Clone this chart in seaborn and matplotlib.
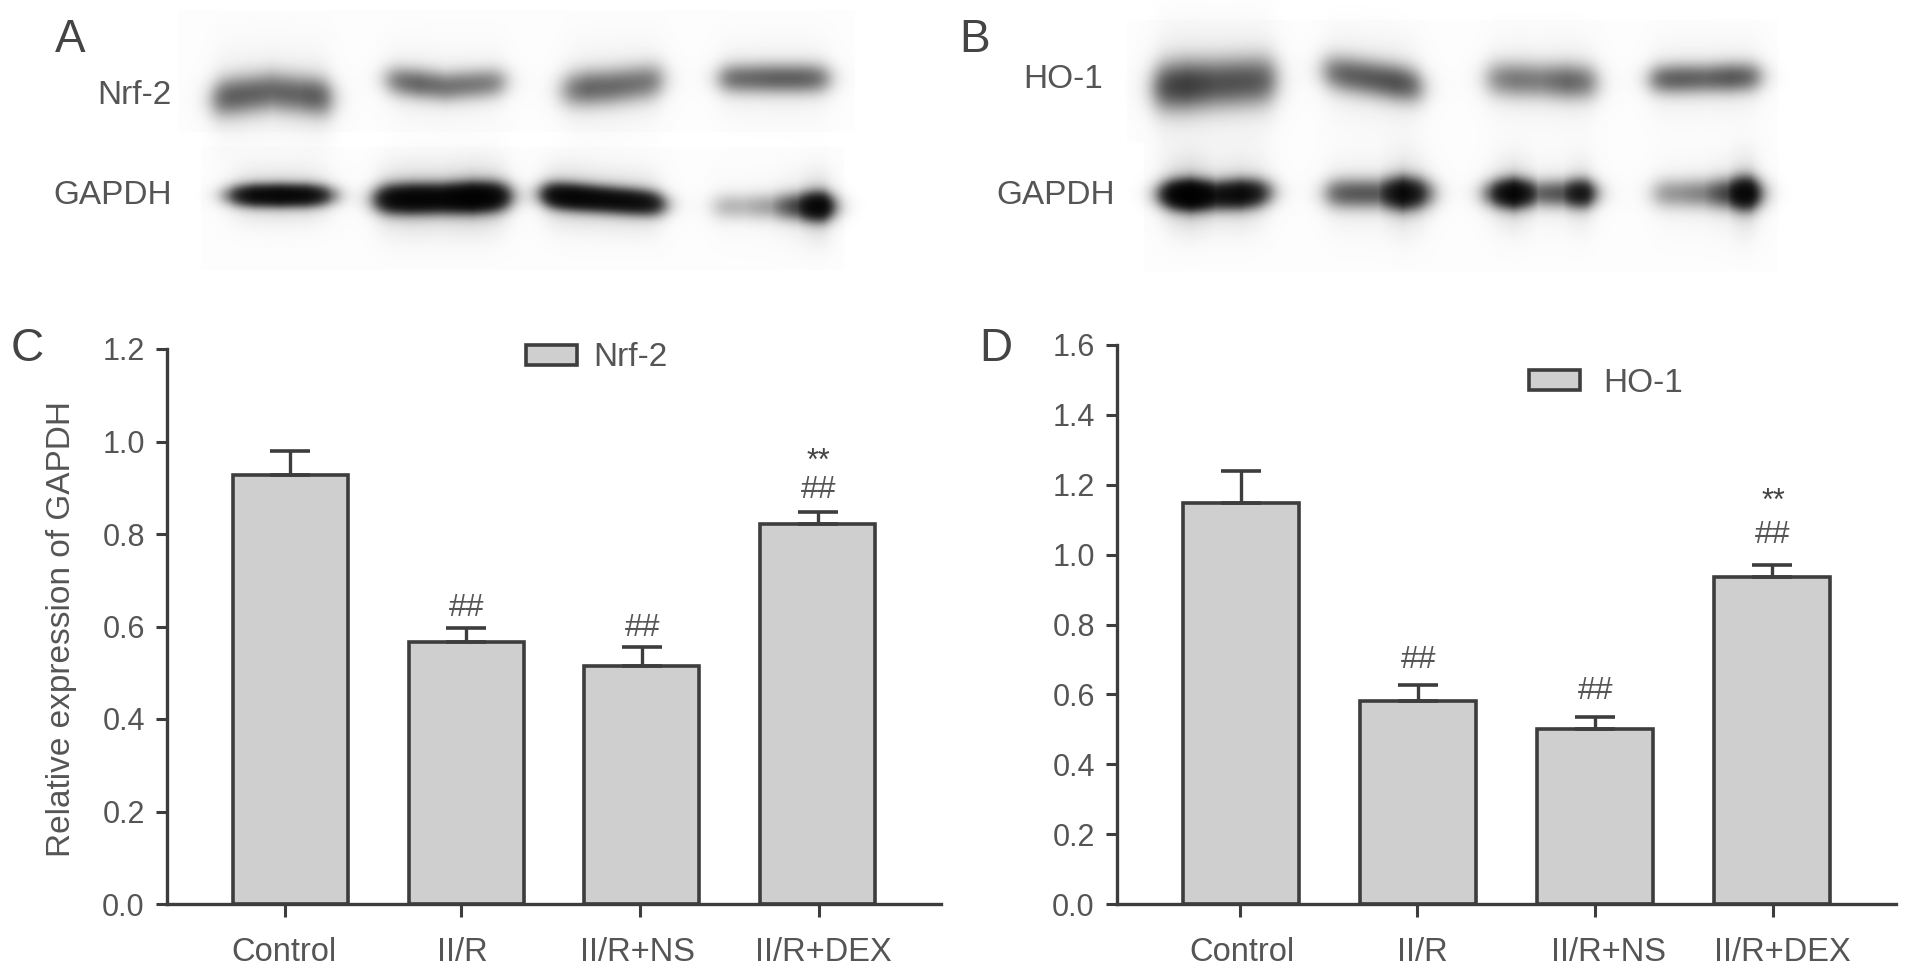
import numpy as np
import pandas as pd
import matplotlib
matplotlib.use("Agg")
import matplotlib.pyplot as plt
from matplotlib.patches import Patch
from matplotlib.transforms import ScaledTranslation
import seaborn as sns

W, H = 1913, 974

groups = ["Control", "II/R", "II/R+NS", "II/R+DEX"]

nrf2_vals = [0.928, 0.566, 0.515, 0.821]
nrf2_err = [0.052, 0.030, 0.041, 0.027]
nrf2_hash_y = [None, 0.640, 0.597, 0.895]
nrf2_star_y = [None, None, None, 0.955]

ho1_vals = [1.148, 0.581, 0.502, 0.936]
ho1_err = [0.090, 0.046, 0.033, 0.035]
ho1_hash_y = [None, 0.698, 0.609, 1.057]
ho1_star_y = [None, None, None, 1.150]

# tick marks are not quite under the bars in the original
nrf2_tick_shift = [-0.028, -0.028, -0.012, 0.007]
ho1_tick_shift = [-0.006, -0.006, 0.0, 0.006]
# label shift from the tick, pixels
nrf2_label_dx = [-1, 1, -2, 4]
ho1_label_dx = [2, 5, 13, 9]

# blot panels: x0, x1, y0, y1 (pixels)
blot_panels = [
    (178, 855, 10, 132),
    (201, 844, 147, 270),
    (1127, 1778, 20, 143),
    (1144, 1778, 143, 272),
]

# blot bands: x0, x1, y left/mid/right, thickness, darkness along the lane
blot_bands = [
    # Nrf-2
    (207, 336, [99, 91, 98], 13, [0.72, 0.66, 0.62, 0.64, 0.78]),
    (380, 511, [79, 86, 81], 10, [0.55, 0.62, 0.55, 0.52, 0.50]),
    (555, 668, [90, 86, 79], 12, [0.50, 0.62, 0.60, 0.56, 0.56]),
    (713, 835, [78, 78, 78], 10, [0.60, 0.60, 0.65, 0.65, 0.60]),
    # GAPDH A
    (219, 341, [195, 195, 195], 7, [0.9, 1.7, 1.9, 1.7, 0.9]),
    (371, 513, [199, 198, 196], 9, [1.8, 2.1, 2.0, 2.5, 2.0]),
    (538, 668, [194, 199, 204], 8, [2.0, 2.0, 1.8, 1.7, 1.5]),
    (707, 834, [206, 206, 206], 9, [0.28, 0.25, 0.35, 0.9, 2.8]),
    # HO-1
    (1148, 1281, [87, 83, 79], 16, [0.85, 0.90, 0.76, 0.74, 0.72]),
    (1317, 1427, [70, 78, 87], 12, [0.58, 0.66, 0.70, 0.76, 0.70]),
    (1480, 1602, [78, 80, 82], 12, [0.46, 0.52, 0.50, 0.62, 0.58]),
    (1644, 1766, [79, 78, 76], 10, [0.66, 0.66, 0.62, 0.70, 0.66]),
    # GAPDH B
    (1156, 1275, [194, 195, 192], 9, [2.0, 2.8, 1.5, 1.8, 1.2]),
    (1320, 1436, [193, 193, 193], 10, [0.7, 0.7, 0.7, 1.9, 1.1]),
    (1480, 1596, [193, 193, 193], 9, [1.1, 2.1, 0.62, 0.75, 2.1]),
    (1647, 1760, [193, 193, 193], 10, [0.40, 0.40, 0.48, 0.9, 3.0]),
]


def make_blots():
    img = np.ones((H, W))
    for x0, x1, y0, y1 in blot_panels:
        img[y0:y1, x0:x1] = 0.99
    yy, xx = np.mgrid[0:H, 0:W]
    dark = np.zeros((H, W))
    for x0, x1, ys, s, dk in blot_bands:
        t = (xx - x0) / (x1 - x0)
        yc = np.interp(t, [0, 0.5, 1], ys)
        d = np.interp(t, [0.08, 0.29, 0.5, 0.71, 0.92], dk)
        edge = 1 / (1 + np.exp(-(xx - x0 - 8) / 6)) / (1 + np.exp((xx - x1 + 8) / 6))
        band = np.exp(-((yy - yc) / s) ** 2 / 2)
        halo = 0.10 * np.exp(-((yy - yc) / (2.5 * s)) ** 2 / 2)
        dark += d * edge * (band + halo)
    return img * (1 - np.tanh(dark))


def px_axes(fig, left, right, top, bottom):
    return fig.add_axes([left / W, 1 - bottom / H, (right - left) / W, (bottom - top) / H])


def draw_bars(ax, vals, err, hash_y, star_y, ymax, step, tick_shift, label_dx, legend_name, legend_xy, text_pad):
    df = pd.DataFrame({"group": groups, "value": vals})
    sns.barplot(data=df, x="group", y="value", color="#cfcfcf", saturation=1,
                width=0.654, edgecolor="#3d3d3d", linewidth=2.6, errorbar=None, ax=ax)
    ax.errorbar(range(4), vals, yerr=[np.zeros(4), err], fmt="none", ecolor="#3d3d3d",
                elinewidth=2.4, capsize=14.5, capthick=2.6, zorder=1)
    ax.set_xticks([i + s for i, s in enumerate(tick_shift)])
    ax.set_xticklabels(groups)
    ax.set_xlim(-0.70, 3.70)
    ax.set_ylim(0, ymax)
    ax.set_yticks(np.arange(0, ymax + 0.01, step))
    ax.set_xlabel("")
    ax.set_ylabel("")
    ax.tick_params(axis="y", length=8, width=2.2, pad=8, labelsize=22, colors="#3d3d3d", labelcolor="#555555")
    ax.tick_params(axis="x", length=9.5, width=2.2, pad=14, labelsize=23.5, colors="#3d3d3d", labelcolor="#555555")
    for lab, dx in zip(ax.get_xticklabels(), label_dx):
        lab.set_transform(lab.get_transform() + ScaledTranslation(dx / 100, 0, ax.figure.dpi_scale_trans))
    ax.patch.set_alpha(0)
    sns.despine(ax=ax)
    for side in ["left", "bottom"]:
        ax.spines[side].set_linewidth(2.4)
        ax.spines[side].set_color("#3d3d3d")
    for i in range(4):
        if hash_y[i] is not None:
            ax.text(i + 0.005, hash_y[i], "##", ha="center", va="center", fontsize=23, color="#555555")
        if star_y[i] is not None:
            ax.text(i + 0.005, star_y[i], "**", ha="center", va="center", fontsize=22, color="#444444")
    handle = Patch(facecolor="#cfcfcf", edgecolor="#3d3d3d", linewidth=2.6, label=legend_name)
    leg = ax.legend(handles=[handle], loc="center left", frameon=False, fontsize=24,
                    bbox_to_anchor=(legend_xy[0] / W, 1 - legend_xy[1] / H),
                    bbox_transform=ax.figure.transFigure, borderaxespad=0, borderpad=0,
                    handlelength=1.53, handleheight=0.54, handletextpad=text_pad)
    for t in leg.get_texts():
        t.set_color("#555555")


sns.set_theme(style="ticks")
plt.rcParams["font.family"] = ["Liberation Sans", "DejaVu Sans"]

fig = plt.figure(figsize=(W / 100, H / 100), dpi=100, facecolor="white")

# western blots go behind everything
bg = fig.add_axes([0, 0, 1, 1])
bg.imshow(make_blots(), cmap="gray", vmin=0, vmax=1, extent=(0, W, H, 0), aspect="auto")
bg.axis("off")

ax_c = px_axes(fig, 167, 941, 349, 904)
draw_bars(ax_c, nrf2_vals, nrf2_err, nrf2_hash_y, nrf2_star_y, 1.2, 0.2,
          nrf2_tick_shift, nrf2_label_dx, "Nrf-2", (526, 358), 0.5)
ax_c.set_ylabel("Relative expression of GAPDH", fontsize=24, color="#555555")
ax_c.yaxis.set_label_coords(77 / W, 1 - 629 / H, transform=fig.transFigure)

ax_d = px_axes(fig, 1117, 1896, 345, 904)
draw_bars(ax_d, ho1_vals, ho1_err, ho1_hash_y, ho1_star_y, 1.6, 0.2,
          ho1_tick_shift, ho1_label_dx, "HO-1", (1529, 383), 0.7)

# blot labels and panel letters
for txt, x, y in [("Nrf-2", 172, 96), ("GAPDH", 172, 196), ("HO-1", 1103, 79), ("GAPDH", 1115, 196)]:
    fig.text(x / W, 1 - y / H, txt, ha="right", va="center", fontsize=24, color="#555555")
for txt, x, y in [("A", 55, 40), ("B", 959, 40), ("C", 11, 349), ("D", 979, 349)]:
    fig.text(x / W, 1 - y / H, txt, ha="left", va="center", fontsize=33, color="#444444")

fig.savefig("out.png", dpi=100)
